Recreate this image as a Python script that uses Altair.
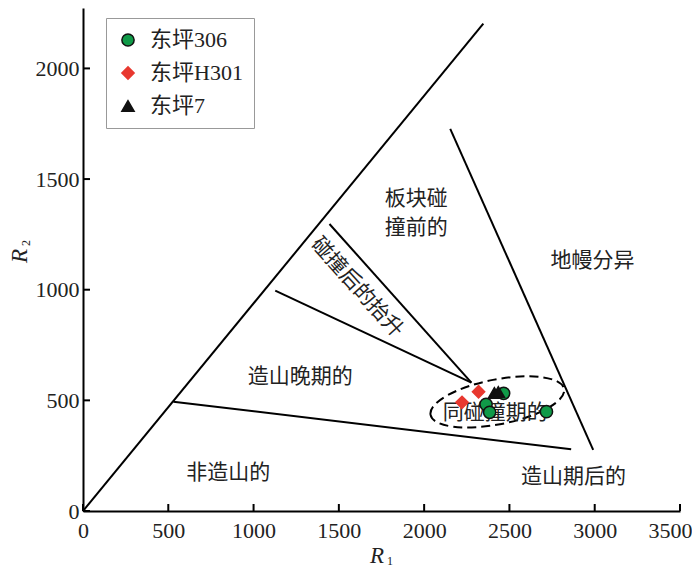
import altair as alt
import pandas as pd

# ---- sample data (R1, R2) ----
series_names = ["东坪306", "东坪H301", "东坪7"]
s306_r1 = [2363, 2384, 2466, 2717]
s306_r2 = [482, 446, 532, 449]
h301_r1 = [2222, 2319]
h301_r2 = [491, 539]
s7_r1 = [2412, 2435]
s7_r2 = [533, 538]

series_fill = ["#109a48", "#e8382f", "#111111"]
series_stroke = ["#111111", "#e8382f", "#111111"]
series_shape = ["circle", "diamond", "triangle-up"]

# ---- field boundary segments ----
line_x1 = [0, 2153, 1445, 1127, 530]
line_y1 = [0, 1727, 1297, 996, 494]
line_x2 = [2347, 2991, 2277, 2277, 2862]
line_y2 = [2202, 276, 580, 580, 279]

# ---- field labels ----
region_text = ["板块碰\n撞前的", "地幔分异", "造山晚期的", "同碰撞期的", "非造山的", "造山期后的"]
region_x = [1954, 2987, 1273, 2417, 851, 2875]
region_y = [1410, 1130, 606, 443, 172, 154]
rot_text = ["碰撞后的抬升"]
rot_x = [1605]
rot_y = [1010]

# ---- syn-collision dashed ellipse centre ----
ell_x = [2429]
ell_y = [493]

x_ticks = [0, 500, 1000, 1500, 2000, 2500, 3000, 3500]
y_ticks = [0, 500, 1000, 1500, 2000]

W, H = 597, 503
xs = alt.Scale(domain=[0, 3500], nice=False, zero=False)
ys = alt.Scale(domain=[0, 2273], nice=False, zero=False)

pts = pd.DataFrame({
    "series": [series_names[0]] * len(s306_r1) + [series_names[1]] * len(h301_r1) + [series_names[2]] * len(s7_r1),
    "R1": s306_r1 + h301_r1 + s7_r1,
    "R2": s306_r2 + h301_r2 + s7_r2,
})
lines = pd.DataFrame({"x1": line_x1, "y1": line_y1, "x2": line_x2, "y2": line_y2})
regions = pd.DataFrame({"t": region_text, "x": region_x, "y": region_y})
rot = pd.DataFrame({"t": rot_text, "x": rot_x, "y": rot_y})
ell = pd.DataFrame({"x": ell_x, "y": ell_y})
xt = pd.DataFrame({"v": x_ticks})
yt = pd.DataFrame({"v": y_ticks})
one = pd.DataFrame({"a": [0]})

num_font = "Liberation Serif"
cjk_font = "Noto Sans CJK SC"

x_axis = alt.Axis(values=x_ticks, ticks=False, grid=False, domainColor="black", domainWidth=2,
                  labelFont=num_font, labelFontSize=22, labelColor="#222", labelPadding=9,
                  labelFlush=False, labelOverlap=False, title=None, format="d",
                  labelAlign={"condition": {"test": "datum.value == 3500", "value": "right"}, "value": "center"},
                  labelOffset={"condition": {"test": "datum.value == 3500", "value": 12}, "value": 0})
y_axis = alt.Axis(values=y_ticks, ticks=False, grid=False, domainColor="black", domainWidth=2,
                  labelFont=num_font, labelFontSize=22, labelColor="#222", labelPadding=4,
                  labelFlush=False, labelOverlap=False, title=None, format="d")


def X(field):
    return alt.X(field, scale=xs, axis=x_axis)


def Y(field):
    return alt.Y(field, scale=ys, axis=y_axis)


line_layer = alt.Chart(lines).mark_rule(color="black", strokeWidth=2).encode(
    x=X("x1:Q"), y=Y("y1:Q"), x2="x2:Q", y2="y2:Q",
)

xtick_layer = alt.Chart(xt).mark_rule(color="black", strokeWidth=2).encode(
    x=X("v:Q"), y=alt.value(H), y2=alt.value(H - 7)
)
ytick_layer = alt.Chart(yt).mark_rule(color="black", strokeWidth=2).encode(
    y=Y("v:Q"), x=alt.value(0), x2=alt.value(7)
)

ellipse_path = "M -1 0 A 1 0.33 0 1 1 1 0 A 1 0.33 0 1 1 -1 0 Z"
ell_layer = alt.Chart(ell).mark_point(
    shape=ellipse_path, size=18496, angle=349, filled=False, color="black",
    strokeWidth=2, strokeDash=[9, 5], opacity=1
).encode(x=X("x:Q"), y=Y("y:Q"))

region_layer = alt.Chart(regions).mark_text(
    font=cjk_font, fontSize=21, color="#222", align="center", baseline="middle",
    lineBreak="\n", lineHeight=29
).encode(x=X("x:Q"), y=Y("y:Q"), text="t:N")

rot_layer = alt.Chart(rot).mark_text(
    font=cjk_font, fontSize=21, color="#222", align="center", baseline="middle", angle=48
).encode(x=X("x:Q"), y=Y("y:Q"), text="t:N")

leg = alt.Legend(title=None, orient="none", legendX=23, legendY=10, direction="vertical",
                 strokeColor="#999", fillColor="white", padding=11,
                 labelFont=num_font + ", " + cjk_font, labelFontSize=22, labelColor="#222",
                 symbolSize=150, labelOffset=11, rowPadding=11, symbolStrokeWidth=1.5, labelLimit=220)

pt_layer = alt.Chart(pts).mark_point(size=150, strokeWidth=1.5, opacity=1, filled=True).encode(
    x=X("R1:Q"),
    y=Y("R2:Q"),
    fill=alt.Fill("series:N", scale=alt.Scale(domain=series_names, range=series_fill), legend=leg),
    stroke=alt.Stroke("series:N", scale=alt.Scale(domain=series_names, range=series_stroke), legend=leg),
    shape=alt.Shape("series:N", scale=alt.Scale(domain=series_names, range=series_shape), legend=leg),
)

# axis titles R1 / R2 with subscripts
t_r1 = alt.Chart(one).mark_text(text="R", font=num_font, fontStyle="italic", fontSize=23,
                                color="#222", align="center", baseline="alphabetic").encode(
    x=alt.value(294), y=alt.value(555))
t_r1s = alt.Chart(one).mark_text(text="1", font=num_font, fontSize=12,
                                 color="#222", align="center", baseline="alphabetic").encode(
    x=alt.value(307), y=alt.value(557))
t_r2 = alt.Chart(one).mark_text(text="R", font=num_font, fontStyle="italic", fontSize=23,
                                color="#222", align="center", baseline="alphabetic", angle=270).encode(
    x=alt.value(-56), y=alt.value(248))
t_r2s = alt.Chart(one).mark_text(text="2", font=num_font, fontSize=12,
                                 color="#222", align="center", baseline="alphabetic", angle=270).encode(
    x=alt.value(-53), y=alt.value(235))

chart = alt.layer(
    line_layer, xtick_layer, ytick_layer, ell_layer, region_layer, rot_layer, pt_layer,
    t_r1, t_r1s, t_r2, t_r2s
).properties(
    width=W, height=H,
    autosize=alt.AutoSizeParams(type="none"),
    padding={"left": 75, "top": 0, "right": 12, "bottom": 59},
).configure_view(stroke=None)

chart.save("out.html", embed_options={"renderer": "svg", "actions": False})
